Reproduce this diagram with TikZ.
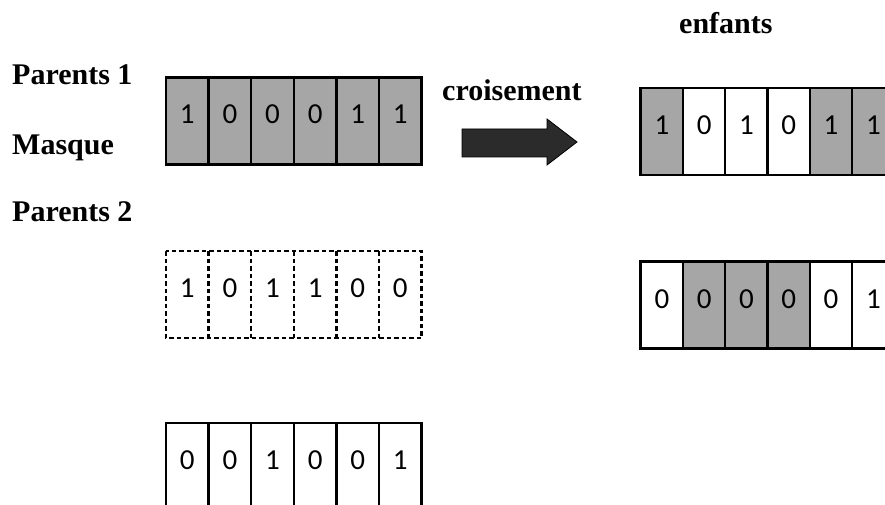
\documentclass[tikz,border=0pt]{standalone}
\usepackage{fontspec}
\setmainfont{Liberation Serif}
\newfontfamily\chiffre{Carlito}
\usepackage{xcolor}
\usetikzlibrary{positioning}
\definecolor{grisgene}{HTML}{A6A6A6}
\definecolor{fleche}{HTML}{2B2B2B}
\tikzstyle{gene}  = [line width=2.4pt, minimum width=42.6pt, minimum height=87pt, inner sep=0pt, text height=19pt, text depth=13pt, font=\chiffre\fontsize{29}{30}\selectfont]
\tikzstyle{titre} = [anchor=base west, inner sep=0pt, font=\bfseries\fontsize{30}{32}\selectfont]

\begin{document}
\begin{tikzpicture}[
        x=1pt, y=-1pt,
        gris/.style={gene, draw, fill=grisgene},
        blanc/.style={gene, draw, fill=white},
        vide/.style={gene, outer sep=0pt},
        pointille/.style={line width=2.4pt, dash pattern=on 4.5pt off 3pt}
    ]

        \clip (0,0) rectangle (885,505);
        \useasboundingbox (0,0) rectangle (885,505);

        % libelles
        \node[titre] (p1) at (12,85) {Parents 1};
        \node[titre] (msq) at (12,155) {Masque};
        \node[titre] (p2) at (12,221) {Parents 2};
        \node[titre] (crs) at (442,101) {croisement};
        \node[titre] (enf) at (679,34) {enfants};

        % parents et masque
        \foreach \v [count=\i] in {1,0,0,0,1,1}
            \node[gris] (pa\i) at ({166+42.6*(\i-0.5)},121) {\v};
        \foreach \v [count=\i] in {1,0,1,1,0,0}
            \node[vide] (mq\i) at ({166+42.6*(\i-0.5)},294.5) {\v};
        \draw[pointille] (mq1.north west) rectangle (mq6.south east);
        \foreach \i in {1,...,5}
            \draw[pointille] (mq\i.north east) -- (mq\i.south east);
        \foreach \v [count=\i] in {0,0,1,0,0,1}
            \node[blanc] (pb\i) at ({166+42.6*(\i-0.5)},466.5) {\v};

        % enfants
        \foreach \v/\s [count=\i] in {1/gris,0/blanc,1/blanc,0/blanc,1/gris,1/gris}
            \node[\s] (ea\i) at ({640.7+42.3*(\i-0.5)},131.5) {\v};
        \foreach \v/\s [count=\i] in {0/blanc,0/gris,0/gris,0/gris,0/blanc,1/blanc}
            \node[\s] (eb\i) at ({640.7+42.3*(\i-0.5)},305) {\v};

        % fleche
        \draw[line width=0.8pt, fill=fleche] (462,129) -- (547,129) -- (547,119) -- (577,142)
            -- (547,165) -- (547,157) -- (462,157) -- cycle;

    \end{tikzpicture}
\end{document}
